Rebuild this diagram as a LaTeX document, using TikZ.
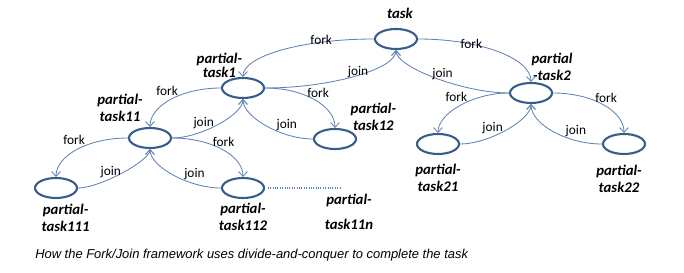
\documentclass[tikz,border=0pt]{standalone}
\usepackage{fontspec}
\setmainfont{Carlito}
\newfontfamily\captionfont{Liberation Sans}
\usetikzlibrary{shapes.geometric, arrows.meta, positioning, calc}

\definecolor{taskBlue}{RGB}{56,93,138}
\definecolor{linkBlue}{RGB}{96,130,178}

\begin{document}
\begin{tikzpicture}[
        on grid,
        taskNode/.style={
            ellipse, draw=taskBlue, line width=1.5pt, fill=white,
            minimum width=1.05cm, minimum height=0.5cm, inner sep=0pt
        },
        nameNode/.style={
            font=\fontsize{10.5}{12}\selectfont\bfseries\itshape, align=center, inner sep=0pt
        },
        edgeLabel/.style={
            font=\fontsize{9.5}{11}\selectfont, inner sep=0pt
        },
        bow/.style={
            to path={.. controls ($(\tikztostart)!#1!(\tikztostart -| \tikztotarget)$)
                and ($(\tikztotarget)!#1!(\tikztostart -| \tikztotarget)$) .. (\tikztotarget) \tikztonodes}
        },
        bow/.default=0.55,
        arrow/.style={
            draw=linkBlue, line width=0.6pt, -{Straight Barb[length=1.2mm, width=2.2mm]}
        }
    ]
        \useasboundingbox (0,0) rectangle (17.1,-6.825);

        % Task tree
        \node (task) [taskNode] at (9.9,-0.975) {};
        \node (pt1) [taskNode, below left=1.225cm and 3.825cm of task] {};
        \node (pt2) [taskNode, below right=1.35cm and 3.375cm of task] {};
        \node (pt11) [taskNode, below left=1.25cm and 2.325cm of pt1] {};
        \node (pt12) [taskNode, below right=1.275cm and 2.3cm of pt1] {};
        \node (pt111) [taskNode, below left=1.25cm and 2.35cm of pt11] {};
        \node (pt112) [taskNode, below right=1.25cm and 2.325cm of pt11] {};
        \node (pt21) [taskNode, below left=1.275cm and 2.325cm of pt2] {};
        \node (pt22) [taskNode, below right=1.275cm and 2.325cm of pt2] {};

        % Names
        \node (taskName) [nameNode, above right=0.65cm and 0.1cm of task] {task};
        \node (pt1Name) [nameNode, above left=0.575cm and 0.59cm of pt1] {partial-\\[-2pt]task1};
        \node (pt2Name) [nameNode, above right=0.65cm and 0.525cm of pt2] {partial\\-task2};
        \node (pt11Name) [nameNode, above left=0.76cm and 0.75cm of pt11] {partial-\\task11};
        \node (pt12Name) [nameNode, above right=0.55cm and 0.96cm of pt12] {partial-\\task12};
        \node (pt111Name) [nameNode, below right=0.74cm and 0.24cm of pt111] {partial-\\task111};
        \node (pt112Name) [nameNode, below=0.725cm of pt112] {partial-\\task112};
        \node (pt11nName) [nameNode, below right=0.6cm and 2.65cm of pt112] {partial-\\[5.5pt]task11n};
        \node (pt21Name) [nameNode, below=0.84cm of pt21] {partial-\\task21};
        \node (pt22Name) [nameNode, below left=0.875cm and 0.125cm of pt22] {partial-\\task22};

        % Fork
        \draw [arrow] (task.west) to[bow] node[edgeLabel, pos=0.26, yshift=0.05cm] {fork} (pt1.north);
        \draw [arrow] (task.east) to[bow] node[edgeLabel, pos=0.31] {fork} (pt2.north);
        \draw [arrow] (pt1.west) to[bow] node[edgeLabel, pos=0.55, yshift=0.27cm] {fork} (pt11.north);
        \draw [arrow] (pt1.east) to[bow] node[edgeLabel, pos=0.55, yshift=0.235cm] {fork} (pt12.north);
        \draw [arrow] (pt11.west) to[bow] node[edgeLabel, pos=0.54, yshift=0.27cm] {fork} (pt111.north);
        \draw [arrow] (pt11.east) to[bow] node[edgeLabel, pos=0.52, yshift=0.215cm] {fork} (pt112.north);
        \draw [arrow] (pt2.west) to[bow=0.5] node[edgeLabel, pos=0.55, yshift=0.28cm] {fork} (pt21.north);
        \draw [arrow] (pt2.east) to[bow] node[edgeLabel, pos=0.54, yshift=0.21cm] {fork} (pt22.north);

        % Join
        \draw [arrow] (pt1.east) to[bow=0.5] node[edgeLabel, pos=0.52, yshift=0.08cm] {join} (task.south);
        \draw [arrow] (pt2.west) to[bow=0.4] node[edgeLabel, pos=0.45, yshift=0.15cm] {join} (task.south);
        \draw [arrow] (pt11.east) to[bow=0.4] node[edgeLabel, pos=0.34, yshift=0.21cm] {join} (pt1.south);
        \draw [arrow] (pt12.west) to[bow=0.45] node[edgeLabel, pos=0.27, yshift=0.24cm] {join} (pt1.south);
        \draw [arrow] (pt111.east) to[bow=0.3] node[edgeLabel, pos=0.38, yshift=0.155cm] {join} (pt11.south);
        \draw [arrow] (pt112.west) to[bow=0.45] node[edgeLabel, pos=0.27, yshift=0.24cm] {join} (pt11.south);
        \draw [arrow] (pt21.east) to[bow=0.4] node[edgeLabel, pos=0.35, yshift=0.21cm] {join} (pt2.south);
        \draw [arrow] (pt22.west) to[bow=0.5] node[edgeLabel, pos=0.25, yshift=0.24cm] {join} (pt2.south);

        % More subtasks
        \coordinate (dotEnd) at ($(pt112.east)+(1.9,0)$);
        \draw [linkBlue, line width=0.8pt, dash pattern=on 0.6pt off 1.1pt, shorten <=2pt] (pt112.east) -- (dotEnd);

        % Caption
        \node (caption) [anchor=west, inner sep=0pt, font=\captionfont\fontsize{9.2}{10}\selectfont\itshape] at (0.875,-6.375)
            {How the Fork/Join framework uses divide-and-conquer to complete the task};
    \end{tikzpicture}
\end{document}
